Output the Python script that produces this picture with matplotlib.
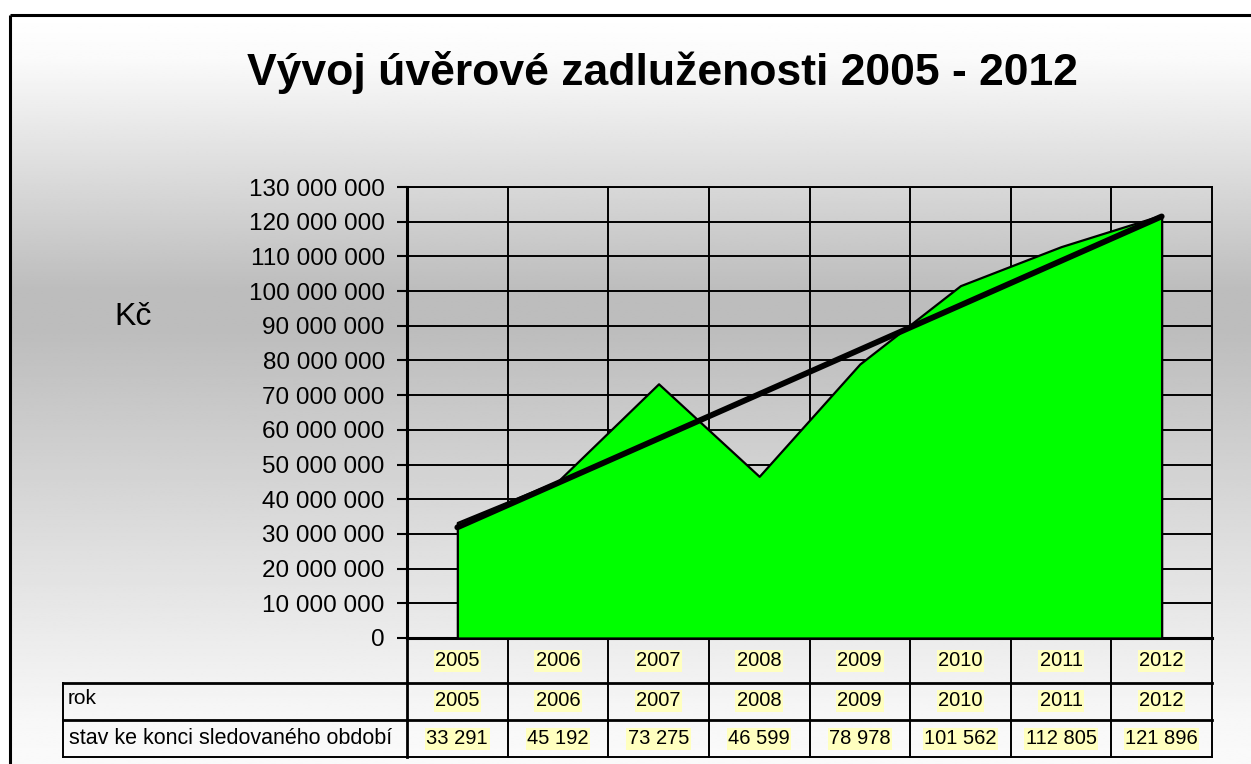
import numpy as np
import matplotlib
matplotlib.use("Agg")
import matplotlib.pyplot as plt
from matplotlib.lines import Line2D
from matplotlib.transforms import blended_transform_factory
from matplotlib.ticker import FuncFormatter, MultipleLocator

plt.rcParams['font.family'] = ['Liberation Sans', 'DejaVu Sans']

# ---- data ----
years = ["2005", "2006", "2007", "2008", "2009", "2010", "2011", "2012"]
values_thousands = [33291, 45192, 73275, 46599, 78978, 101562, 112805, 121896]
value_labels = ["33 291", "45 192", "73 275", "46 599", "78 978", "101 562", "112 805", "121 896"]
title = "Vývoj úvěrové zadluženosti 2005 - 2012"
y_label = "Kč"
row_labels = ["rok", "stav ke konci sledovaného období"]

values = np.array(values_thousands, dtype=float) * 1000
x = np.arange(len(years))

W, H = 1251, 764
fig = plt.figure(figsize=(W / 100, H / 100), dpi=100)

# ---- background gradient ----
bg = fig.add_axes([0, 0, 1, 1], zorder=0)
bg.set_xlim(0, W)
bg.set_ylim(H, 0)
bg.axis('off')
ys = np.linspace(15, H, 400)
prof = np.interp(ys, [15, 60, 290, 330, 560, 720, 764], [1.0, 0.98, 0.74, 0.74, 0.88, 0.97, 0.98])
img = np.repeat(prof[:, None], 2, axis=1)
bg.imshow(img, cmap='gray', vmin=0, vmax=1, extent=[10, W, H, 15], aspect='auto', interpolation='bilinear')
bg.plot([10, W], [15, 15], color='black', lw=2.2, solid_capstyle='butt')
bg.plot([10, 10], [15, H], color='black', lw=2.2, solid_capstyle='butt')

# ---- main chart ----
L, R, T, B = 407, 1212, 187, 638
ax = fig.add_axes([L / W, 1 - B / H, (R - L) / W, (B - T) / H], zorder=2)
ax.set_facecolor('none')
ax.set_xlim(-0.5, len(years) - 0.5)
ax.set_ylim(0, 130_000_000)

ax.yaxis.set_major_locator(MultipleLocator(10_000_000))
ax.yaxis.set_major_formatter(FuncFormatter(lambda v, p: f"{int(round(v)):,}".replace(",", " ")))
ax.tick_params(axis='y', length=7, width=1.5, labelsize=17.5, pad=9, colors='black')
ax.set_xticks([])
ax.grid(False)
for yv in np.arange(10_000_000, 130_000_001, 10_000_000):
    ax.axhline(yv, color='black', lw=1.4, zorder=1)
for xv in np.arange(0.5, len(years) - 0.5, 1):
    ax.axvline(xv, color='black', lw=1.4, zorder=1)
for s in ['left', 'bottom']:
    ax.spines[s].set_linewidth(2.2)
for s in ['top', 'right']:
    ax.spines[s].set_linewidth(1.4)

ax.fill_between(x, values, 0, facecolor='#00ff00', edgecolor='black', lw=1.6, zorder=3)

coef = np.polyfit(x, values, 1)
trend = np.polyval(coef, x[[0, -1]])
ax.plot(x[[0, -1]], trend, color='black', lw=4.2, solid_capstyle='round', zorder=4)

# ---- table below the chart ----
tr = blended_transform_factory(ax.transData, fig.transFigure)
def fy(py):
    return 1 - py / H
x_left_tab = -0.5 + (63 - L) / ((R - L) / len(years))
hl = dict(facecolor='#ffffbf', edgecolor='none', pad=1.0)
fs_tab = 14.5

ax.add_line(Line2D([x_left_tab, len(years) - 0.5], [fy(683)] * 2, transform=tr, color='black', lw=2.0, clip_on=False))
ax.add_line(Line2D([x_left_tab, len(years) - 0.5], [fy(720)] * 2, transform=tr, color='black', lw=2.0, clip_on=False))
ax.add_line(Line2D([x_left_tab, len(years) - 0.5], [fy(757)] * 2, transform=tr, color='black', lw=1.4, clip_on=False))
ax.add_line(Line2D([x_left_tab] * 2, [fy(683), fy(757)], transform=tr, color='black', lw=1.4, clip_on=False))
for xv in np.arange(-0.5, len(years), 1):
    ax.add_line(Line2D([xv] * 2, [fy(638), fy(757)], transform=tr, color='black',
                       lw=2.0 if xv == -0.5 else 1.4, clip_on=False))

for i, yr in enumerate(years):
    ax.text(i, fy(661), yr, transform=tr, ha='center', va='center', fontsize=fs_tab, bbox=hl, clip_on=False)
    ax.text(i, fy(701), yr, transform=tr, ha='center', va='center', fontsize=fs_tab, bbox=hl, clip_on=False)
    ax.text(i, fy(739), value_labels[i], transform=tr, ha='center', va='center', fontsize=fs_tab, bbox=hl, clip_on=False)

fig.text(68 / W, fy(698), row_labels[0], ha='left', va='center', fontsize=15, zorder=5)
fig.text(69 / W, fy(738), row_labels[1], ha='left', va='center', fontsize=15.5, zorder=5)

# ---- titles ----
fig.text(662 / W, fy(72), title, ha='center', va='center', fontsize=32, fontweight='bold', zorder=5)
fig.text(133 / W, fy(317), y_label, ha='center', va='center', fontsize=23, zorder=5)

fig.savefig("out.png", dpi=100)
